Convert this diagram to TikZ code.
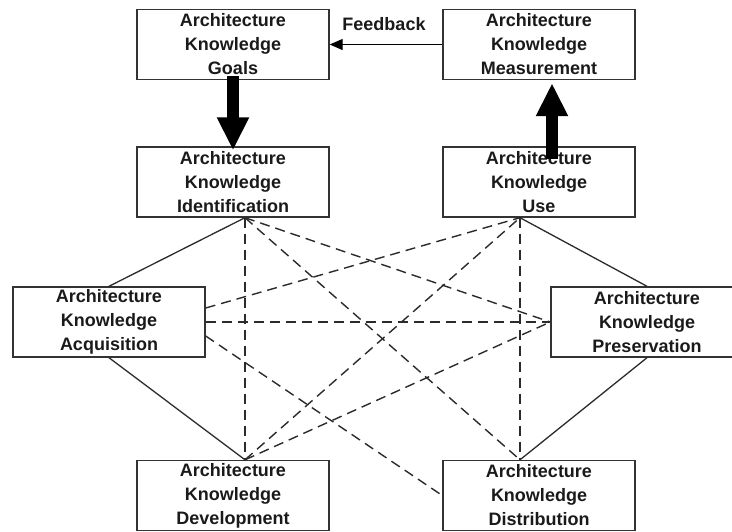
\documentclass[tikz,border=0pt]{standalone}
\usepackage{fontspec}
\setmainfont{Liberation Sans}
\usetikzlibrary{arrows.meta}
\definecolor{boxgray}{HTML}{333333}
\definecolor{linkgray}{HTML}{2B2B2B}
\definecolor{textblack}{HTML}{1A1A1A}

\begin{document}
\begin{tikzpicture}[x=1pt,y=-1pt]
  \tikzset{
    phase/.style={draw=boxgray,line width=1.4pt,inner sep=0pt,align=center,
      minimum width=192pt,minimum height=70pt,text=textblack,
      font=\bfseries\fontsize{18}{24}\selectfont},
    caption/.style={text=textblack,font=\bfseries\fontsize{18}{21}\selectfont},
    tie/.style={linkgray,line width=1.3pt},
    crosstie/.style={linkgray,line width=1.4pt,dash pattern=on 10pt off 6pt},
    bigarrow/.style={black,line width=12pt,-{Triangle[width=30pt,length=33pt]}},
    feedarrow/.style={black,line width=1.2pt,-{Triangle[width=11pt,length=13pt]}},
  }
  % Frame of the image, px coordinates, y pointing down.
  \clip (0,0) rectangle (732,531);

  % Goal setting and measurement.
  \node[phase] (goals) at (233,44.5) {Architecture\\Knowledge\\Goals};
  \node[phase] (meas) at (539,44.5) {Architecture\\Knowledge\\Measurement};

  % The six knowledge activities.
  \node[phase] (ident) at (233,182) {Architecture\\Knowledge\\Identification};
  \node[phase] (use) at (539,182) {Architecture\\Knowledge\\Use};
  \node[phase] (acq) at (109,322) {Architecture\\Knowledge\\Acquisition};
  \node[phase] (pres) at (647,322) {Architecture\\Knowledge\\Preservation};
  \node[phase] (dev) at (233,495.5) {Architecture\\Knowledge\\Development};
  \node[phase] (dist) at (539,495.5) {Architecture\\Knowledge\\Distribution};

  % Meeting points of the links.
  \coordinate (identS) at ([xshift=12pt]ident.south);
  \coordinate (devN) at ([xshift=12pt]dev.north);
  \coordinate (useS) at ([xshift=-19pt]use.south);
  \coordinate (distN) at ([xshift=-19pt]dist.north);
  \coordinate (acqE1) at ([yshift=14pt]acq.east);
  \coordinate (acqE3) at ([yshift=-14pt]acq.east);

  % Solid links round the outside.
  \draw[tie] (identS) -- (acq.north);
  \draw[tie] (acq.south) -- (devN);
  \draw[tie] (useS) -- (pres.north);
  \draw[tie] (pres.south) -- (distN);

  % Dashed cross links.
  \draw[crosstie] (identS) -- (devN);
  \draw[crosstie] (identS) -- (pres.west);
  \draw[crosstie] (identS) -- (distN);
  \draw[crosstie] (acqE1) -- (useS);
  \draw[crosstie] (acq.east) -- (pres.west);
  \draw[crosstie] (acqE3) -- (dist.west);
  \draw[crosstie] (devN) -- (useS);
  \draw[crosstie] (devN) -- (pres.west);
  \draw[crosstie] (useS) -- (distN);

  % Thick arrows and the feedback loop.
  \draw[bigarrow] ([yshift=4pt]goals.south) -- ([yshift=-4pt]ident.north);
  \draw[bigarrow] ([xshift=13pt,yshift=-13pt]use.north) -- ([xshift=13pt,yshift=-3pt]meas.south);
  \draw[feedarrow] (meas.west) -- (goals.east);
  \node[caption] (fb) at (384,24) {Feedback};
\end{tikzpicture}
\end{document}
